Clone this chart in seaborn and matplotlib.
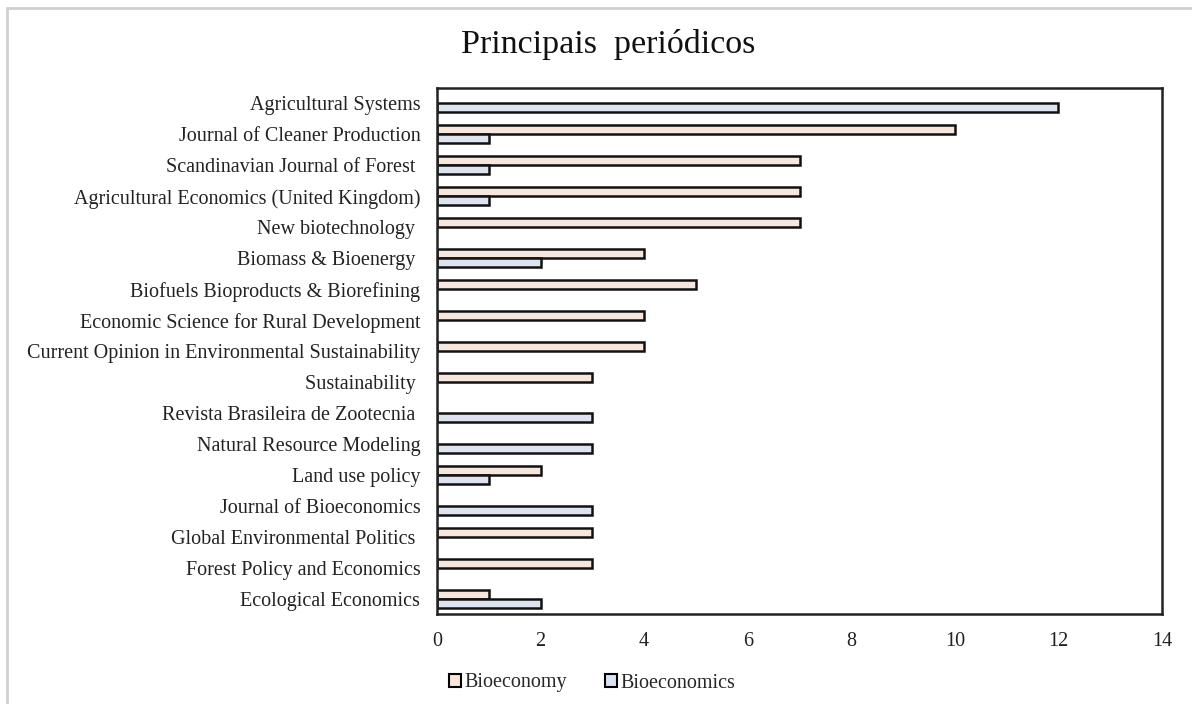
import pandas as pd
import matplotlib.pyplot as plt
import seaborn as sns
from matplotlib.lines import Line2D
from matplotlib.patches import Patch

sns.set_theme(style="white")
plt.rcParams["font.family"] = ["Liberation Serif", "DejaVu Serif"]

journals = [
    "Agricultural Systems",
    "Journal of Cleaner Production",
    "Scandinavian Journal of Forest ",
    "Agricultural Economics (United Kingdom)",
    "New biotechnology ",
    "Biomass & Bioenergy ",
    "Biofuels Bioproducts & Biorefining",
    "Economic Science for Rural Development",
    "Current Opinion in Environmental Sustainability",
    "Sustainability ",
    "Revista Brasileira de Zootecnia ",
    "Natural Resource Modeling",
    "Land use policy",
    "Journal of Bioeconomics",
    "Global Environmental Politics ",
    "Forest Policy and Economics",
    "Ecological Economics",
]
bioeconomy = [0, 10, 7, 7, 7, 4, 5, 4, 4, 3, 0, 0, 2, 0, 3, 3, 1]
bioeconomics = [12, 1, 1, 1, 0, 2, 0, 0, 0, 0, 3, 3, 1, 3, 0, 0, 2]
series = ["Bioeconomy", "Bioeconomics"]
colors = ["#FBE5D6", "#DAE3F3"]

df = pd.DataFrame({"Journal": journals, "Bioeconomy": bioeconomy, "Bioeconomics": bioeconomics})
long = df.melt(id_vars="Journal", var_name="Series", value_name="Count")

fig = plt.figure(figsize=(11.92, 7.04), dpi=100)
ax = fig.add_axes([437 / 1192, 1 - 614 / 704, (1162 - 437) / 1192, (614 - 88) / 704])

sns.barplot(data=long, y="Journal", x="Count", hue="Series", hue_order=series,
            order=journals, palette=colors, width=0.58, gap=0,
            edgecolor="#111111", linewidth=1.8, orient="h", ax=ax, legend=False)

# hide empty bars
for p in ax.patches:
    if p.get_width() == 0:
        p.set_visible(False)

ax.set_xlim(0, 14)
ax.set_xticks(range(0, 15, 2))
ax.set_xlabel("")
ax.set_ylabel("")
ax.tick_params(axis="both", length=0, labelsize=14.5, colors="#222222")
ax.tick_params(axis="x", pad=13)
ax.tick_params(axis="y", pad=12)
for s in ax.spines.values():
    s.set_visible(True)
    s.set_color("#222222")
    s.set_linewidth(1.8)

fig.text(608 / 1192, 1 - 45 / 704, "Principais  periódicos", ha="center", va="center",
         fontsize=24.5, color="#111111")

handles = [Patch(facecolor=c, edgecolor="black", linewidth=1.5) for c in colors]
fig.legend(handles, series, loc="center", bbox_to_anchor=(592 / 1192, 1 - 683 / 704),
           ncol=2, frameon=False, fontsize=14.5, handlelength=0.6, handleheight=0.6,
           handletextpad=0.15, columnspacing=1.9)

# light grey frame on left/top like the screenshot
fig.add_artist(Line2D([7 / 1192, 7 / 1192], [0, 1 - 8 / 704], color="#d0d0d0", lw=2))
fig.add_artist(Line2D([7 / 1192, 1], [1 - 8 / 704, 1 - 8 / 704], color="#d0d0d0", lw=2))

fig.savefig("out.png", dpi=100, facecolor="white")
